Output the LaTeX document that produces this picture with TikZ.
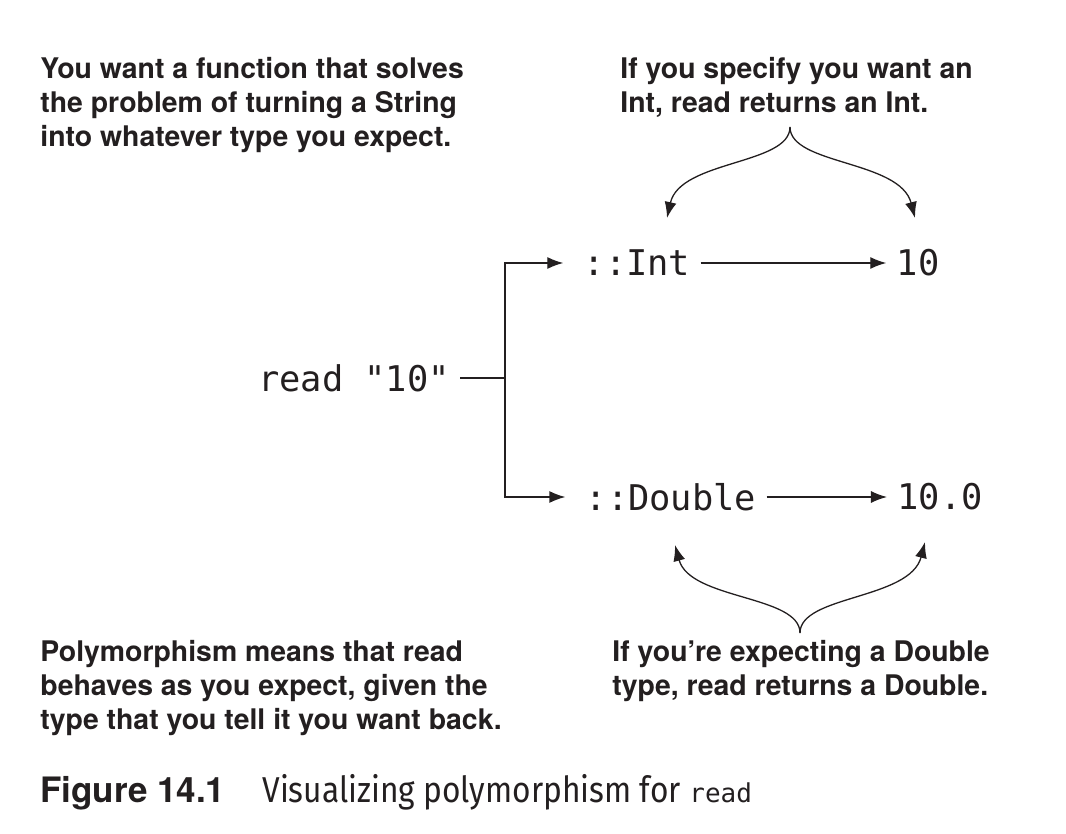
\documentclass[tikz,border=0pt]{standalone}
\usepackage{fontspec}
\setmainfont{TeX Gyre Heros}
\setmonofont{DejaVu Sans Mono}
\newfontfamily\capfont[FakeStretch=0.88]{Fira Sans}
\usetikzlibrary{arrows.meta}

\definecolor{ink}{HTML}{231F20}

\tikzset{
    note/.style={anchor=north west, align=left, inner sep=0pt, text=ink,
        font=\fontsize{14.2}{17.1}\selectfont\bfseries},
    code/.style={inner xsep=5pt, inner ysep=2pt, text=ink,
        font=\fontsize{17.7}{20}\selectfont\ttfamily},
    link/.style={draw=ink, line width=0.65pt, -{Latex[length=8pt,width=6pt]}}
}

\begin{document}
\begin{tikzpicture}[x=0.5pt,y=-0.5pt]
    \useasboundingbox (0,0) rectangle (1066,834);

    \node[note] (Wanted) at (40,57) {You want a function that solves\\
        the problem of turning a String\\
        into whatever type you expect.};
    \node[note] (Specify) at (620,57) {If you specify you want an\\
        Int, read returns an Int.};
    \node[note] (Means) at (40,640) {Polymorphism means that read\\
        behaves as you expect, given the\\
        type that you tell it you want back.};
    \node[note] (Expecting) at (612,640) {If you're expecting a Double\\
        type, read returns a Double.};

    \node[code] (Read) at (354,378) {read "10"};
    \node[code] (Int) at (637,263) {::Int};
    \node[code] (Ten) at (918,263) {10};
    \node[code] (Double) at (671,497) {::Double};
    \node[code] (TenPt) at (940,497) {10.0};

    \coordinate (Fork) at (505,378);
    \coordinate (TopCusp) at (790,127);
    \coordinate (IntTip) at (667,218);
    \coordinate (TenTip) at (915,218);
    \coordinate (BotCusp) at (800,633);
    \coordinate (DoubleTip) at (675,545);
    \coordinate (TenPtTip) at (925,542);

    \draw[draw=ink, line width=0.65pt] (Read) -- (Fork);
    \draw[link, shorten >=5pt] (Fork) |- (Int);
    \draw[link, shorten >=5pt] (Fork) |- (Double);
    \draw[link] (Int) -- (Ten);
    \draw[link] (Double) -- (TenPt);

    \draw[link] (TopCusp) .. controls (790,165) and (680,160) .. (IntTip);
    \draw[link] (TopCusp) .. controls (790,165) and (900,160) .. (TenTip);
    \draw[link] (BotCusp) .. controls (800,595) and (690,600) .. (DoubleTip);
    \draw[link] (BotCusp) .. controls (800,595) and (910,600) .. (TenPtTip);

    \node[anchor=base west, inner sep=0pt, text=ink,
        font=\fontsize{17.5}{20}\selectfont\bfseries] (Figure) at (40,802) {Figure 14.1};
    \node[anchor=base west, inner sep=0pt, text=ink,
        font=\fontsize{18}{20}\selectfont\capfont] (Caption) at (262,802)
        {Visualizing polymorphism for {\ttfamily\fontsize{13}{20}\selectfont read}};
\end{tikzpicture}
\end{document}
